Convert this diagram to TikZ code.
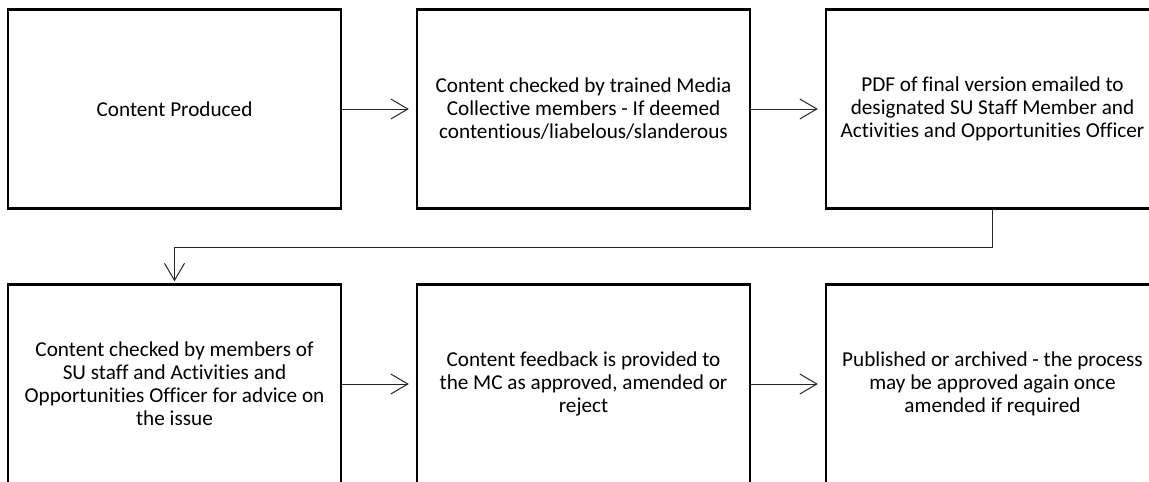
\documentclass[tikz,border=0pt]{standalone}
\usepackage{fontspec}
\setmainfont[Ligatures=NoCommon,Contextuals=NoAlternate,RawFeature={-liga;-clig;-dlig;-calt}]{Carlito}
\usetikzlibrary{arrows.meta}
\begin{document}
\begin{tikzpicture}[x=1pt,y=-1pt,
  procbox/.style={draw=black, line width=2.4pt, minimum width=333pt, minimum height=199pt,
    inner sep=0pt, align=center, font=\fontsize{21.2pt}{23pt}\selectfont, anchor=center},
  flow/.style={draw=black!85, line width=1pt,
    -{Straight Barb[length=17pt,width=20pt,line width=1pt]}, shorten >=7pt}
]
\useasboundingbox (0,0) rectangle (1149,482);
\node[procbox] (b1) at (174.5,109) {Content Produced};
\node[procbox] (b2) at (583.5,109) {Content checked by trained Media\\Collective members - If deemed\\contentious/liabelous/slanderous};
\node[procbox] (b3) at (992.5,109) {PDF of final version emailed to\\designated SU Staff Member and\\Activities and Opportunities Officer};
\node[procbox] (b4) at (174.5,384) {Content checked by members of\\SU staff and Activities and\\Opportunities Officer for advice on\\the issue};
\node[procbox] (b5) at (583.5,384) {Content feedback is provided to\\the MC as approved, amended or\\reject};
\node[procbox] (b6) at (992.5,384) {Published or archived - the process\\may be approved again once\\amended if required};
\draw[flow] (b1.east) -- (b2.west);
\draw[flow] (b2.east) -- (b3.west);
\draw[flow, shorten >=2pt] (b3.south) -- ++(0,38) -| (b4.north);
\draw[flow] (b4.east) -- (b5.west);
\draw[flow] (b5.east) -- (b6.west);
\end{tikzpicture}
\end{document}
